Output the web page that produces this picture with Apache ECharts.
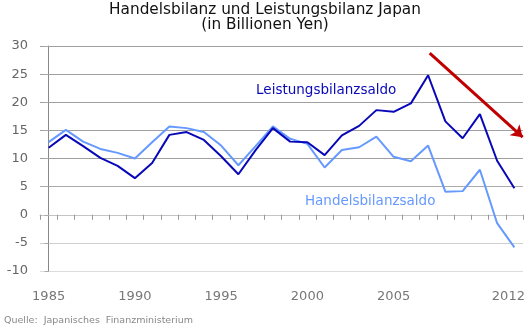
<!DOCTYPE html>
<html>
<head>
<meta charset="utf-8">
<script src="https://cdn.jsdelivr.net/npm/echarts@6/dist/echarts.min.js"></script>
<style>html,body{margin:0;padding:0;background:#fff}#c{width:530px;height:328px}</style>
</head>
<body>
<div id="c"></div>
<script>
const years = ['1985','1986','1987','1988','1989','1990','1991','1992','1993','1994','1995','1996','1997','1998','1999','2000','2001','2002','2003','2004','2005','2006','2007','2008','2009','2010','2011','2012'];
const leistungsbilanz = [11.9,14.2,12.2,10.1,8.7,6.5,9.2,14.2,14.7,13.3,10.4,7.2,11.5,15.4,13.0,12.9,10.6,14.1,15.8,18.6,18.3,19.8,24.8,16.6,13.6,17.9,9.6,4.7];
const handelsbilanz = [12.9,15.1,13.0,11.7,11.0,10.0,12.9,15.7,15.4,14.7,12.3,8.8,12.2,15.7,13.5,12.6,8.4,11.5,12.0,13.9,10.3,9.5,12.3,4.1,4.2,8.0,-1.5,-5.8];
const shownYearLabels = ['1985','1990','1995','2000','2005','2012'];
const yMin = -10, yMax = 30, yStep = 5;
const titleText = 'Handelsbilanz und Leistungsbilanz Japan\n(in Billionen Yen)';
const sourceText = 'Quelle:  Japanisches  Finanzministerium';
// annotation anchors in data space: [year index, value]
const labelLeistung = {text: 'Leistungsbilanzsaldo', at: [16.09, 22.17]};
const labelHandel = {text: 'Handelsbilanzsaldo', at: [18.64, 2.42]};
const trendArrow = {from: [22.09, 28.75], to: [27.48, 13.8]};

const FONT = 'DejaVu Sans';
const DARK = '#0808b8', LIGHT = '#6699ff';
const chart = echarts.init(document.getElementById('c'), null, {renderer: 'canvas'});

chart.setOption({
  animation: false,
  title: {
    text: titleText, left: 'center', top: 3, padding: 0,
    textStyle: {fontFamily: FONT, fontSize: 15.3, fontWeight: 'normal', color: '#111', lineHeight: 14.5}
  },
  graphic: [{
    type: 'text', left: 4, top: 316,
    style: {text: sourceText, font: '9.5px "DejaVu Sans"', fill: '#888'}
  }],
  grid: {left: 40, right: 7, top: 46, bottom: 57, containLabel: false},
  xAxis: [{
    type: 'category', data: years, position: 'bottom', boundaryGap: true,
    axisLine: {show: true, onZero: true, lineStyle: {color: '#c4c4c4', width: 1}},
    axisTick: {show: true, interval: 0, length: 5, lineStyle: {color: '#999'}},
    axisLabel: {show: false},
    splitLine: {show: false}
  }, {
    type: 'category', data: years, position: 'bottom', boundaryGap: true,
    axisLine: {show: false, onZero: false},
    axisTick: {show: false},
    axisLabel: {
      show: true, margin: 19, color: '#777', fontFamily: FONT, fontSize: 13,
      interval: (i, v) => shownYearLabels.indexOf(v) >= 0,
      formatter: v => v === years[years.length - 1] ? '{last|' + v + '}' : v,
      rich: {last: {padding: [0, 12, 0, 0], color: '#777', fontFamily: FONT, fontSize: 13}}
    },
    splitLine: {show: false}
  }, {
    type: 'value', show: false, min: -0.5, max: years.length - 0.5,
    axisLine: {onZero: false}, splitLine: {show: false}
  }],
  yAxis: {
    type: 'value', min: yMin, max: yMax, interval: yStep,
    axisLine: {show: true, lineStyle: {color: '#888'}},
    axisTick: {show: true, length: 4, lineStyle: {color: '#aaa'}},
    axisLabel: {color: '#666', fontFamily: FONT, fontSize: 13, margin: 12},
    splitLine: {show: true, lineStyle: {width: 1, color: ['#dcdcdc','#cfcfcf','#c4c4c4','#ababab','#a0a0a0','#a0a0a0','#a0a0a0','#a0a0a0','#a0a0a0']}}
  },
  series: [{
    name: 'Handelsbilanzsaldo', type: 'line', xAxisIndex: 0, data: handelsbilanz,
    symbol: 'none', lineStyle: {color: LIGHT, width: 2}
  }, {
    name: 'Leistungsbilanzsaldo', type: 'line', xAxisIndex: 0, data: leistungsbilanz,
    symbol: 'none', lineStyle: {color: DARK, width: 2}
  }, {
    name: 'annotations', type: 'line', xAxisIndex: 2, data: [], clip: false,
    markPoint: {
      symbol: 'circle', symbolSize: 0, silent: true,
      label: {show: true, position: 'inside', fontFamily: FONT, fontSize: 13.5},
      data: [
        {coord: labelLeistung.at, value: 0, label: {formatter: labelLeistung.text, color: DARK}},
        {coord: labelHandel.at, value: 0, label: {formatter: labelHandel.text, color: LIGHT}}
      ]
    },
    markLine: {
      silent: true, symbol: ['none', 'arrow'], symbolSize: [11, 11],
      label: {show: false},
      lineStyle: {color: '#c00000', width: 3, type: 'solid'},
      data: [[{coord: trendArrow.from}, {coord: trendArrow.to}]]
    }
  }]
});
</script>
</body>
</html>
